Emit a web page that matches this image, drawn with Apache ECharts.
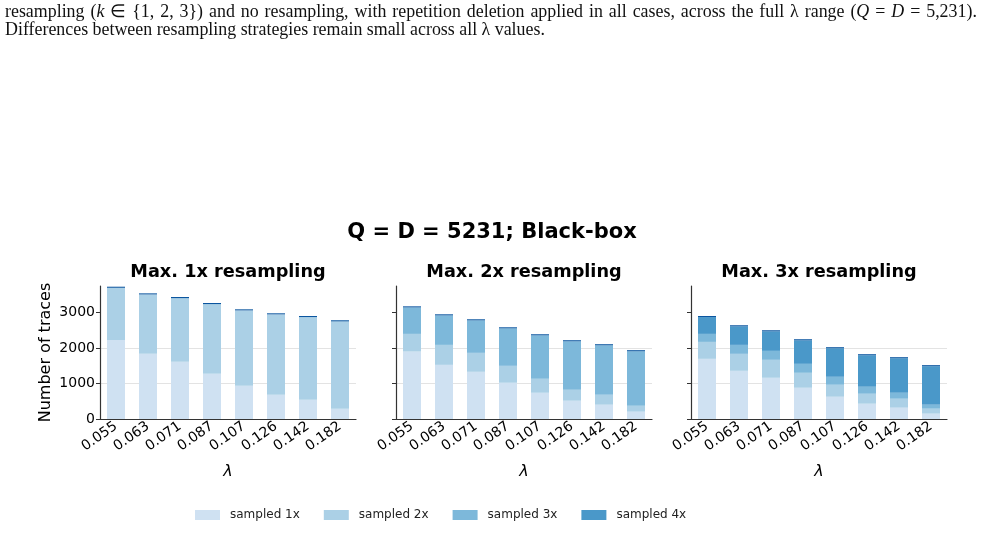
<!DOCTYPE html>
<html>
<head>
    <meta charset="utf-8">
    <title>Q = D = 5231; Black-box</title>
    <script src="https://cdn.jsdelivr.net/npm/echarts@6/dist/echarts.min.js"></script>
</head>
<body style="margin:0;background:#fff;">
    <div id="main" style="width: 987px; height: 550px;"></div>

    <script type="text/javascript">
        // lambda values (x categories)
        var lambdas = ['0.055', '0.063', '0.071', '0.087', '0.107', '0.126', '0.142', '0.182'];
        var yTicks = [0, 1000, 2000, 3000];

        // Max. 1x resampling
        var p1_sampled1 = [2224, 1832, 1607, 1271, 935, 682, 542, 290];
        var p1_sampled2 = [1466, 1671, 1793, 1961, 2119, 2260, 2325, 2456];
        var p1_top      = [30, 30, 30, 30, 30, 30, 30, 30];

        // Max. 2x resampling
        var p2_sampled1 = [1897, 1523, 1327, 1019, 738, 514, 402, 206];
        var p2_sampled2 = [496, 561, 533, 476, 393, 308, 280, 168];
        var p2_sampled3 = [745, 830, 914, 1054, 1222, 1363, 1391, 1531];
        var p2_top      = [30, 30, 30, 30, 30, 30, 30, 30];

        // Max. 3x resampling
        var p3_sampled1 = [1692, 1355, 1159, 879, 626, 430, 318, 150];
        var p3_sampled2 = [476, 477, 505, 420, 337, 280, 252, 140];
        var p3_sampled3 = [225, 252, 252, 252, 224, 197, 168, 112];
        var p3_sampled4 = [474, 522, 549, 662, 802, 885, 970, 1082];
        var p3_top      = [30, 30, 30, 30, 30, 30, 30, 30];

        var colors = {
            'sampled 1x': '#cfe1f2',
            'sampled 2x': '#abd0e6',
            'sampled 3x': '#7db8da',
            'sampled 4x': '#4a98c9',
            'top': '#0b559f'
        };

        var panels = [
            { title: 'Max. 1x resampling', left: 100, width: 256,
              stacks: [['sampled 1x', p1_sampled1], ['sampled 2x', p1_sampled2], ['top', p1_top]] },
            { title: 'Max. 2x resampling', left: 396, width: 256,
              stacks: [['sampled 1x', p2_sampled1], ['sampled 2x', p2_sampled2], ['sampled 3x', p2_sampled3], ['top', p2_top]] },
            { title: 'Max. 3x resampling', left: 691, width: 256,
              stacks: [['sampled 1x', p3_sampled1], ['sampled 2x', p3_sampled2], ['sampled 3x', p3_sampled3], ['sampled 4x', p3_sampled4], ['top', p3_top]] }
        ];

        var font = 'DejaVu Sans';

        // caption lines (first line is justified in the source, so spaces are a bit wider)
        var caption1 = 'resampling ({i|k} ∈ {1, 2, 3}) and no resampling, with repetition deletion applied in all cases, across the full λ range ({i|Q} = {i|D} = 5,231).';
        var caption2 = 'Differences between resampling strategies remain small across all λ values.';

        var myChart = echarts.init(document.getElementById('main'));

        var serifRich = {
            i: { fontFamily: 'Liberation Serif', fontSize: 17.9, fontStyle: 'italic', color: '#111' },
            s: { fontFamily: 'Liberation Serif', fontSize: 23.8, color: '#111' }
        };

        var titles = [
            {
                left: 5, top: 0, padding: 0,
                text: caption1.split(' ').join('{s| }'),
                textStyle: { fontFamily: 'Liberation Serif', fontSize: 17.9, fontWeight: 'normal', color: '#111', rich: serifRich }
            },
            {
                left: 5, top: 21, padding: 0,
                text: caption2,
                textStyle: { fontFamily: 'Liberation Serif', fontSize: 17.9, fontWeight: 'normal', color: '#111' }
            },
            {
                left: 492, top: 222, textAlign: 'center', padding: 0,
                text: 'Q = D = 5231; Black-box',
                textStyle: { fontFamily: font, fontSize: 21, fontWeight: 'bold', color: '#000' }
            }
        ];

        var grids = [], xAxes = [], yAxes = [], series = [];

        panels.forEach(function (p, k) {
            titles.push({
                left: p.left + p.width / 2, top: 263, textAlign: 'center', padding: 0,
                text: p.title,
                textStyle: { fontFamily: font, fontSize: 17.7, fontWeight: 'bold', color: '#000' }
            });
            grids.push({ left: p.left, width: p.width, top: 286, height: 133 });
            xAxes.push({
                type: 'category', gridIndex: k, data: lambdas,
                name: 'λ', nameLocation: 'middle', nameGap: 45,
                nameTextStyle: { fontFamily: font, fontSize: 16, fontStyle: 'italic', color: '#000' },
                splitLine: { show: false },
                axisLine: { lineStyle: { color: '#333', width: 1.2 } },
                axisTick: { alignWithLabel: true, length: 4, lineStyle: { color: '#333' } },
                axisLabel: {
                    interval: 0, rotate: 35, margin: 6,
                    fontFamily: font, fontSize: 14, color: '#000'
                }
            });
            yAxes.push({
                type: 'value', gridIndex: k, min: 0, max: 3740, interval: 1000,
                name: k === 0 ? 'Number of traces' : '', nameLocation: 'middle', nameGap: 46,
                nameTextStyle: { fontFamily: font, fontSize: 16, color: '#000' },
                axisLine: { show: true, lineStyle: { color: '#333', width: 1.2 } },
                axisTick: { show: true, customValues: yTicks, length: 4, lineStyle: { color: '#333' } },
                axisLabel: {
                    show: k === 0, customValues: yTicks, margin: 5,
                    fontFamily: font, fontSize: 14, color: '#000',
                    formatter: function (v) { return String(v); }
                },
                splitLine: { show: true, showMaxLine: false, lineStyle: { color: '#e3e3e3', width: 1 } }
            });
            p.stacks.forEach(function (s) {
                series.push({
                    name: s[0], type: 'bar', stack: 'p' + k,
                    xAxisIndex: k, yAxisIndex: k, barWidth: 18,
                    itemStyle: { color: colors[s[0]] },
                    data: s[1]
                });
            });
        });

        var option = {
            animation: false,
            backgroundColor: '#fff',
            title: titles,
            legend: {
                data: ['sampled 1x', 'sampled 2x', 'sampled 3x', 'sampled 4x'],
                left: 190, top: 504,
                icon: 'rect', itemWidth: 25, itemHeight: 10, itemGap: 24,
                textStyle: { fontFamily: font, fontSize: 12, color: '#222', padding: [0, 0, 0, 5] }
            },
            grid: grids,
            xAxis: xAxes,
            yAxis: yAxes,
            series: series
        };

        myChart.setOption(option);
    </script>
</body>
</html>
